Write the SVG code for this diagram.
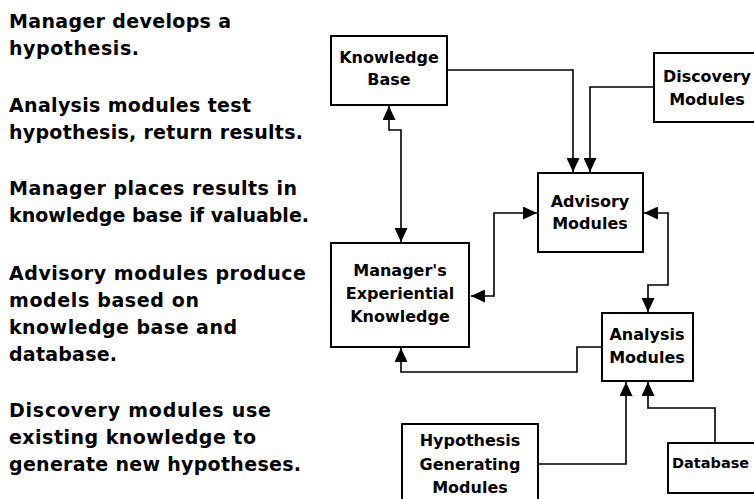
<svg xmlns="http://www.w3.org/2000/svg" width="754" height="499" viewBox="0 0 754 499">
<style>
.note{font-family:"DejaVu Sans","Liberation Sans",sans-serif;font-weight:bold;font-size:19px;fill:#000}
.lbl{font-family:"DejaVu Sans","Liberation Sans",sans-serif;font-weight:bold;font-size:16px;fill:#000;text-anchor:middle}
.box{fill:#fff;stroke:#000;stroke-width:2}
.conn{fill:none;stroke:#000;stroke-width:1.6}
</style>
<defs>
<marker id="ah" markerUnits="userSpaceOnUse" markerWidth="14" markerHeight="13" refX="14" refY="6.5" orient="auto-start-reverse" viewBox="0 0 14 13">
<path d="M0,0 L14,6.5 L0,13 Z" fill="#000"/>
</marker>
</defs>
<rect x="0" y="0" width="754" height="499" fill="#fff"/>
<g id="notes">
<text class="note" x="9" y="28" textLength="222" lengthAdjust="spacing">Manager develops a</text>
<text class="note" x="9" y="55" textLength="130" lengthAdjust="spacing">hypothesis.</text>
<text class="note" x="9" y="112" textLength="242" lengthAdjust="spacing">Analysis modules test</text>
<text class="note" x="9" y="139" textLength="294" lengthAdjust="spacing">hypothesis, return results.</text>
<text class="note" x="9" y="195" textLength="288" lengthAdjust="spacing">Manager places results in</text>
<text class="note" x="9" y="222" textLength="300" lengthAdjust="spacing">knowledge base if valuable.</text>
<text class="note" x="9" y="280" textLength="297" lengthAdjust="spacing">Advisory modules produce</text>
<text class="note" x="9" y="307" textLength="190" lengthAdjust="spacing">models based on</text>
<text class="note" x="9" y="334" textLength="228" lengthAdjust="spacing">knowledge base and</text>
<text class="note" x="9" y="361" textLength="108" lengthAdjust="spacing">database.</text>
<text class="note" x="9" y="417" textLength="262" lengthAdjust="spacing">Discovery modules use</text>
<text class="note" x="9" y="444" textLength="247" lengthAdjust="spacing">existing knowledge to</text>
<text class="note" x="9" y="471" textLength="292" lengthAdjust="spacing">generate new hypotheses.</text>
</g>
<g id="connectors">
<path class="conn" d="M447,70 H573 V172" marker-end="url(#ah)"/>
<path class="conn" d="M654,87 H590 V172" marker-end="url(#ah)"/>
<path class="conn" d="M389,106 V130 H401 V242" marker-start="url(#ah)" marker-end="url(#ah)"/>
<path class="conn" d="M471,296 H494 V213 H537" marker-start="url(#ah)" marker-end="url(#ah)"/>
<path class="conn" d="M644,213 H668 V285 H648 V312" marker-start="url(#ah)" marker-end="url(#ah)"/>
<path class="conn" d="M602,347 H577 V372 H401 V348" marker-end="url(#ah)"/>
<path class="conn" d="M538,464 H626 V382" marker-end="url(#ah)"/>
<path class="conn" d="M715,443 V408 H648 V382" marker-end="url(#ah)"/>
</g>
<g id="knowledge-base">
<rect class="box" x="331" y="36" width="116" height="69"/>
<text class="lbl" x="389" y="63">Knowledge</text>
<text class="lbl" x="389" y="85">Base</text>
</g>
<g id="discovery-modules">
<rect class="box" x="654" y="53" width="110" height="69"/>
<text class="lbl" x="707" y="82" textLength="88" lengthAdjust="spacingAndGlyphs">Discovery</text>
<text class="lbl" x="707" y="105">Modules</text>
</g>
<g id="advisory-modules">
<rect class="box" x="538" y="173" width="105" height="79"/>
<text class="lbl" x="590" y="207">Advisory</text>
<text class="lbl" x="590" y="229">Modules</text>
</g>
<g id="managers-knowledge">
<rect class="box" x="331" y="243" width="138" height="104"/>
<text class="lbl" x="400" y="276">Manager's</text>
<text class="lbl" x="400" y="299">Experiential</text>
<text class="lbl" x="400" y="322">Knowledge</text>
</g>
<g id="analysis-modules">
<rect class="box" x="602" y="313" width="91" height="68"/>
<text class="lbl" x="647" y="340">Analysis</text>
<text class="lbl" x="647" y="363">Modules</text>
</g>
<g id="hypothesis-generating-modules">
<rect class="box" x="402" y="424" width="136" height="90"/>
<text class="lbl" x="470" y="446">Hypothesis</text>
<text class="lbl" x="470" y="470">Generating</text>
<text class="lbl" x="470" y="493">Modules</text>
</g>
<g id="database">
<rect x="668" y="443" width="86" height="50" fill="#fff"/>
<path d="M754,443 H668 V493 H754" fill="none" stroke="#000" stroke-width="2"/>
<text class="lbl" x="672" y="468" style="text-anchor:start;font-size:14.5px">Database</text>
</g>
</svg>
